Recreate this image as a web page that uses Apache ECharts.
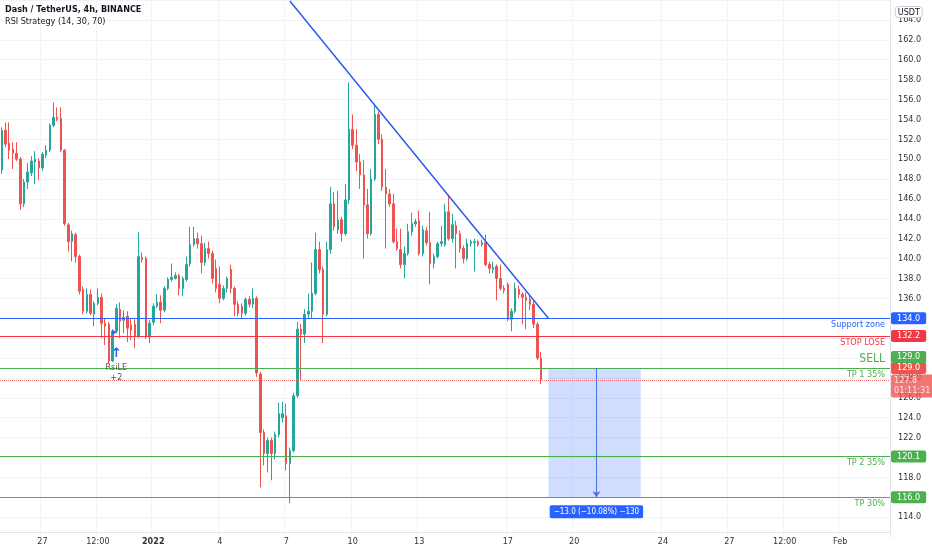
<!DOCTYPE html>
<html><head><meta charset="utf-8">
<script src="https://cdn.jsdelivr.net/npm/echarts@6/dist/echarts.min.js"></script>
<style>html,body{margin:0;padding:0;background:#fff}#c{width:932px;height:550px}</style>
</head><body><div id="c"></div>
<script>
// ---- data ----
const barStart = '2021-12-25 04:00';   // first 4h bar
const slotCount = 241;                  // bars on the time axis (incl. empty future)
const openP = [148.9,152.9,151.6,151.0,150.6,150.0,145.5,147.7,148.6,149.7,149.8,149.1,150.4,150.9,153.4,154.2,154.1,150.9,143.4,141.7,
142.4,140.2,136.9,134.7,136.4,134.4,135.5,136.1,133.5,133.4,129.7,132.7,134.9,133.8,134.2,133.3,133.4,132.2,140.1,140.0,
132.1,133.6,135.2,135.6,134.8,137.0,137.9,138.0,138.3,137.0,137.9,139.5,141.4,142.0,141.5,139.6,141.0,140.5,139.0,137.4,
136.0,137.0,138.9,137.0,135.4,135.2,134.5,135.9,135.4,136.0,128.4,122.5,120.4,121.7,120.4,122.3,124.0,124.2,119.4,120.7,
126.2,132.9,132.4,134.4,134.7,136.5,140.9,138.9,134.4,140.9,145.5,142.9,143.9,142.5,145.9,153.0,151.4,149.7,148.4,145.4,
142.5,148.0,154.5,152.0,147.2,146.5,145.5,141.7,140.9,139.4,140.5,142.7,143.5,143.8,140.5,142.8,141.6,139.5,140.2,141.5,
141.4,144.7,142.0,143.3,142.5,141.0,140.0,141.5,141.6,141.7,141.4,141.6,139.4,138.9,139.2,138.0,137.0,137.4,133.9,134.7,
136.9,136.4,136.1,135.9,135.4,133.4,130.0];
const closeP = [152.9,151.5,150.9,150.6,150.0,145.5,147.7,148.7,149.8,150.0,149.1,150.5,150.9,153.4,154.2,154.0,150.9,143.5,141.7,142.5,
140.2,136.7,134.7,136.4,134.5,135.5,136.1,133.5,133.2,129.7,132.7,135.0,133.7,134.1,133.0,132.8,132.2,140.2,139.9,132.1,
133.5,135.2,135.6,134.8,137.0,137.9,138.1,138.3,137.0,138.0,139.4,141.4,142.0,141.5,139.6,141.0,140.5,138.0,137.0,136.0,
137.0,138.0,137.0,135.4,134.5,134.5,135.9,135.4,136.0,128.5,122.5,120.4,121.7,120.4,122.3,124.4,124.4,119.4,120.7,126.2,
132.9,132.4,134.4,134.7,136.5,140.9,138.9,134.4,140.9,145.5,143.2,143.9,142.5,145.9,153.0,151.4,149.7,148.4,145.4,142.5,
148.0,154.5,152.0,147.2,146.5,145.5,141.7,141.0,139.4,140.5,142.7,143.5,143.7,140.5,142.9,141.6,139.5,140.2,141.5,141.7,
144.7,142.0,143.4,142.5,141.0,140.0,141.5,141.7,141.7,141.4,141.6,139.4,139.0,139.1,138.0,137.0,136.8,133.9,134.7,137.0,
136.4,136.1,135.8,135.4,133.4,130.0,127.8];
const lowP = [148.5,151.2,150.0,149.0,149.8,144.9,145.2,147.0,148.3,147.5,147.9,148.8,150.1,150.7,153.2,153.8,150.7,143.3,140.7,139.7,
139.6,136.4,134.4,134.5,134.3,133.2,135.3,132.0,131.3,129.5,129.6,132.5,132.0,132.5,131.6,131.8,131.0,132.0,139.6,131.9,
131.5,133.3,135.0,133.5,134.6,136.8,137.7,137.9,136.3,136.2,137.7,139.2,141.2,141.0,138.5,139.3,140.0,137.5,136.6,135.5,
135.8,136.6,136.5,134.2,134.2,134.0,134.3,135.1,135.0,128.1,117.0,119.2,118.5,117.7,119.8,122.0,123.5,118.7,115.4,120.5,
126.0,127.8,131.5,134.0,134.0,136.3,138.5,131.5,134.2,140.5,142.8,142.5,141.7,142.3,145.5,151.0,148.8,147.0,140.0,142.0,
142.3,147.8,151.5,146.8,141.0,145.2,141.5,140.8,139.0,138.0,140.3,142.3,143.2,140.3,140.2,141.3,137.4,139.0,140.0,141.2,
141.2,141.8,141.6,139.0,140.6,139.5,139.8,141.2,138.7,141.2,141.2,139.2,138.5,138.5,135.8,136.8,136.5,133.7,132.7,134.5,
136.0,133.4,132.9,134.8,133.0,129.8,127.4];
const highP = [153.2,153.7,153.7,151.7,151.7,150.2,148.0,149.6,150.3,150.8,150.1,150.7,151.4,153.6,155.7,155.2,155.2,151.0,143.6,142.8,
142.6,140.4,137.2,137.0,136.9,135.7,137.0,136.5,134.0,133.6,132.9,135.4,135.6,134.8,134.7,134.0,133.9,142.7,140.6,140.2,
133.8,135.5,136.4,136.3,137.2,138.1,139.5,138.6,138.5,138.2,140.2,143.2,143.2,142.6,142.3,141.6,141.7,140.8,139.9,139.2,
137.3,138.2,139.4,137.2,135.7,135.5,136.1,136.2,137.0,136.2,128.6,122.8,122.0,122.0,122.6,125.5,125.6,125.4,121.0,126.5,
133.6,133.4,134.9,136.5,139.6,142.6,141.7,139.2,141.7,147.2,146.7,146.8,144.2,147.5,157.7,154.5,153.0,150.5,149.9,147.0,
149.0,155.4,154.8,152.5,149.0,147.0,146.5,143.0,143.0,141.2,143.5,144.6,144.0,144.8,143.3,143.2,144.7,140.5,141.7,143.3,
145.5,146.4,144.5,143.8,142.8,141.3,142.0,141.9,142.0,141.9,141.9,142.4,139.7,139.7,139.4,139.4,137.3,137.6,135.0,137.6,
137.3,136.6,136.6,136.3,135.8,133.6,130.6];

const tickTimes = ['2021-12-27 00:00','2021-12-29 12:00','2022-01-01 00:00','2022-01-04 00:00','2022-01-07 00:00','2022-01-10 00:00',
  '2022-01-13 00:00','2022-01-17 00:00','2022-01-20 00:00','2022-01-24 00:00','2022-01-27 00:00','2022-01-29 12:00','2022-02-01 00:00'];
const tickTexts = ['27','12:00','2022','4','7','10','13','17','20','24','27','12:00','Feb'];

const supportPrice = 134.0, stopPrice = 132.2, sellPrice = 129.0, tp2Price = 120.1, tp3Price = 116.0, lastPrice = 127.8;
const lastTimer = '01:11:31';
const trendTimes = ['2022-01-07 04:00','2022-01-18 20:00'];
const trendPrices = [165.9, 134.0];
const posTimes = ['2022-01-18 20:00','2022-01-23 00:00'];
const posPrices = [129.0, 116.0];
const measureTime = '2022-01-21 00:00';
const measureText = '\u221213.0 (\u221210.08%) \u2212130';
const signalTimes = ['2021-12-30 04:00','2021-12-30 08:00'];
const signalPrices = [132.6, 130.4, 128.5];

// ---- build ----
const pad = n => String(n).padStart(2,'0');
const fmt = t => { const d = new Date(t); return d.getUTCFullYear()+'-'+pad(d.getUTCMonth()+1)+'-'+pad(d.getUTCDate())+' '+pad(d.getUTCHours())+':'+pad(d.getUTCMinutes()); };
const t0 = Date.parse(barStart.replace(' ','T')+':00Z');
const cats = Array.from({length: slotCount}, (_, i) => fmt(t0 + i*4*3600e3));
const tickMap = {}; tickTimes.forEach((t,i)=>tickMap[t]=tickTexts[i]);
const candles = openP.map((o,i)=>[o, closeP[i], lowP[i], highP[i]]);

const FONT = '"DejaVu Sans Condensed","Liberation Sans Narrow","Liberation Sans",Arial,sans-serif';
const BLUE='#2962ff', RED='#f23645', GREEN='#4caf50', CUR='#ef5350';
const boxLabel = (text, bg, extra) => Object.assign({show:true, position:'end', distance:1, formatter:text, color:'#fff',
  backgroundColor:bg, padding:[2,6,1,6], borderRadius:2, fontSize:9, fontFamily:FONT, align:'left', verticalAlign:'middle'}, extra||{});
const sideLabel = (text, color, pos, extra) => Object.assign({show:true, position:pos, distance:[5,2], formatter:text, color:color,
  fontSize:9, fontFamily:FONT}, extra||{});
const hidden = {color:'rgba(0,0,0,0)', width:0};

const chart = echarts.init(document.getElementById('c'), null, {renderer:'canvas'});
chart.setOption({
  animation:false,
  backgroundColor:'#ffffff',
  title:[
    {text:'Dash / TetherUS, 4h, BINANCE', subtext:'RSI Strategy (14, 30, 70)', left:2, top:3, itemGap:3, padding:[2,3],
     textStyle:{fontSize:9, fontWeight:'bold', color:'#131722', fontFamily:FONT},
     subtextStyle:{fontSize:9, color:'#131722', fontFamily:FONT}},
    {text:'USDT', right:9, top:6, padding:[2,3,1,3], backgroundColor:'#fff', borderColor:'#c9ccd4', borderWidth:1, borderRadius:3,
     textStyle:{fontSize:9, fontWeight:'normal', color:'#131722', fontFamily:FONT}}
  ],
  grid:{left:-1, right:42, top:-3, bottom:13},
  xAxis:{type:'category', data:cats, boundaryGap:true, offset:-5,
    axisLine:{show:true, lineStyle:{color:'#e0e3eb'}},
    axisTick:{show:false, alignWithLabel:true},
    axisLabel:{interval:(i,v)=>tickMap[v]!==undefined, formatter:v=>tickMap[v]==='2022'?'{y|2022}':tickMap[v],
      color:'#333', fontSize:9, margin:5, fontFamily:FONT, rich:{y:{fontWeight:'bold', fontSize:9, color:'#333', fontFamily:FONT}}},
    splitLine:{show:true, interval:(i,v)=>tickMap[v]!==undefined, lineStyle:{color:'#f2f3f6'}}},
  yAxis:{type:'value', position:'right', min:112, max:166, interval:2,
    axisLine:{show:true, lineStyle:{color:'#e0e3eb'}}, axisTick:{show:false},
    axisLabel:{showMinLabel:false, showMaxLabel:false, formatter:v=>v.toFixed(1), color:'#333', fontSize:9, margin:8, fontFamily:FONT},
    splitLine:{show:true, showMinLine:false, lineStyle:{color:'#f2f3f6'}}},
  series:[{
    type:'candlestick', data:candles, barWidth:2,
    itemStyle:{color:'#26a69a', color0:'#ef5350', borderColor:'#26a69a', borderColor0:'#ef5350', borderWidth:1},
    markArea:{silent:true, data:[[{coord:[posTimes[0], posPrices[0]], itemStyle:{color:'rgba(41,98,255,0.22)'}},{coord:[posTimes[1], posPrices[1]]}]]},
    markLine:{silent:true, symbol:'none', animation:false, data:[
      {yAxis:supportPrice, lineStyle:{color:BLUE, width:1, type:'solid'}, label:boxLabel(supportPrice.toFixed(1), BLUE)},
      {yAxis:supportPrice, lineStyle:{color:BLUE, width:1, type:'solid'}, label:sideLabel('Support zone', BLUE, 'insideEndBottom')},
      {yAxis:stopPrice, lineStyle:{color:RED, width:1, type:'solid'}, label:boxLabel(stopPrice.toFixed(1), RED)},
      {yAxis:stopPrice, lineStyle:{color:RED, width:1, type:'solid'}, label:sideLabel('STOP LOSE', RED, 'insideEndBottom')},
      {yAxis:sellPrice, lineStyle:hidden, label:boxLabel(sellPrice.toFixed(1), CUR)},
      {yAxis:sellPrice, lineStyle:{color:GREEN, width:1, type:'solid'}, label:boxLabel(sellPrice.toFixed(1), GREEN, {offset:[0,-11]})},
      {yAxis:sellPrice, lineStyle:{color:GREEN, width:1, type:'solid'}, label:sideLabel('SELL', GREEN, 'insideEndTop', {fontSize:12, distance:[5,3]})},
      {yAxis:sellPrice, lineStyle:{color:GREEN, width:1, type:'solid'}, label:sideLabel('TP 1 35%', GREEN, 'insideEndBottom')},
      {yAxis:tp2Price, lineStyle:{color:GREEN, width:1, type:'solid'}, label:boxLabel(tp2Price.toFixed(1), GREEN)},
      {yAxis:tp2Price, lineStyle:{color:GREEN, width:1, type:'solid'}, label:sideLabel('TP 2 35%', GREEN, 'insideEndBottom')},
      {yAxis:tp3Price, lineStyle:{color:GREEN, width:1, type:'solid'}, label:boxLabel(tp3Price.toFixed(1), GREEN)},
      {yAxis:tp3Price, lineStyle:{color:GREEN, width:1, type:'solid'}, label:sideLabel('TP 30%', GREEN, 'insideEndBottom')},
      {yAxis:lastPrice, lineStyle:{color:CUR, width:1, type:'dotted', opacity:0.8},
        label:boxLabel(lastPrice.toFixed(1)+'\n'+lastTimer, CUR, {offset:[0,6], lineHeight:10, fontSize:9, padding:[2,3,1,3]})},
      [{coord:[trendTimes[0], trendPrices[0]], lineStyle:{color:'#2457f0', width:1.4, type:'solid'}, label:{show:false}},
       {coord:[trendTimes[1], trendPrices[1]]}],
      [{coord:[measureTime, posPrices[0]], symbol:'none'},
       {coord:[measureTime, posPrices[1]], symbol:'arrow', symbolSize:[6,6],
        lineStyle:{color:'#4a6fe0', width:1, type:'solid'},
        label:{show:true, position:'end', distance:8, formatter:measureText, color:'#fff', backgroundColor:BLUE,
          padding:[3,4,2,4], borderRadius:2, fontSize:8, fontFamily:FONT}}]
    ]},
    markPoint:{silent:true, animation:false, data:[
      {coord:[signalTimes[0], signalPrices[0]], symbol:'triangle', symbolRotate:-90, symbolSize:[5,5], symbolOffset:[2,0],
       itemStyle:{color:BLUE}, label:{show:false}},
      {coord:[signalTimes[1], signalPrices[1]], symbol:'circle', symbolSize:1, itemStyle:{color:'rgba(0,0,0,0)'},
       label:{show:true, position:'inside', formatter:'\u2191', color:BLUE, fontSize:13, fontWeight:'bold', fontFamily:'DejaVu Sans'}},
      {coord:[signalTimes[1], signalPrices[2]], symbol:'circle', symbolSize:1, itemStyle:{color:'rgba(0,0,0,0)'},
       label:{show:true, position:'inside', formatter:'RsiLE\n+2', color:'#555', fontSize:9, lineHeight:10, fontFamily:FONT}}
    ]}
  }]
});
</script></body></html>
